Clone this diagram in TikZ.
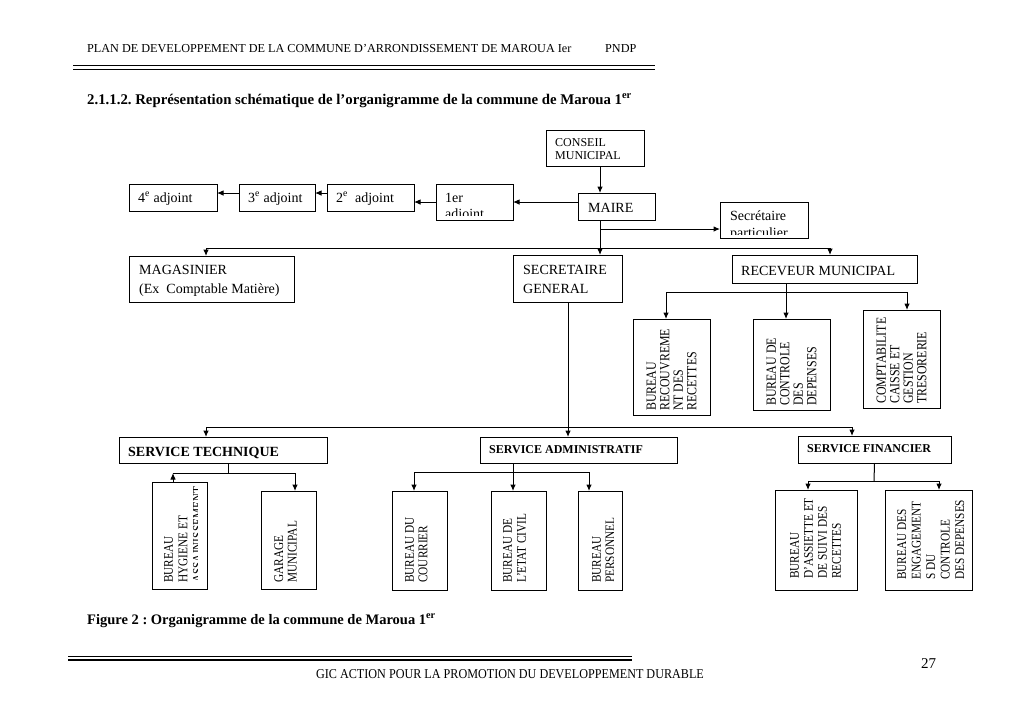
\documentclass[tikz,border=0pt]{standalone}
\usepackage{fontspec}
\setmainfont{Liberation Serif}
\usetikzlibrary{arrows.meta}
\frenchspacing
\newcommand\myfs[2]{\fontsize{#1}{#2}\selectfont}
\newcommand\mybox[5]{\node[box, minimum width={(#4)-(#2)}, minimum height={(#5)-(#3)}] (#1) at ({((#2)+(#4))/2},{((#3)+(#5))/2}) {};}
\tikzset{
 box/.style={draw, line width=1pt, inner sep=0pt, outer sep=0pt},
 tx/.style={inner sep=0pt, anchor=base west},
 vt/.style={inner sep=0pt, rotate=90, xscale=0.85, anchor=north west, align=left},
 arr/.style={line width=1pt, -{Latex[length=6.5pt,width=5.5pt]}},
 ln/.style={line width=1pt},
}
\begin{document}
\begin{tikzpicture}[x=1pt,y=-1pt]
\fill[white] (0,0) rectangle (1024,724);
\useasboundingbox (0,0) rectangle (1024,724);
% header
\node[tx,font=\myfs{12.2}{14}] (hdr) at (87,52) {PLAN DE DEVELOPPEMENT DE LA COMMUNE D’ARRONDISSEMENT DE MAROUA Ier};
\node[tx,font=\myfs{12.2}{14}] (pndp) at (605,52) {PNDP};
\draw[line width=1.4pt] (73,65.5) -- (655,65.5);
\draw[line width=1.4pt] (73,69.5) -- (655,69.5);
\node[tx,font=\bfseries\myfs{14.8}{17}] (ttl) at (87,104) {2.1.1.2. Représentation schématique de l’organigramme de la commune de Maroua 1\textsuperscript{er}};
% boxes
\mybox{cm}{546}{130}{644}{166}
\mybox{maire}{578}{193}{655}{220}
\mybox{aa}{436}{184}{513}{220}
\mybox{ab}{327}{184}{414}{211}
\mybox{ac}{239}{184}{315}{211}
\mybox{ad}{129}{184}{217}{211}
\mybox{sp}{720}{202}{808}{238}
\mybox{mag}{129}{256}{294}{302}
\mybox{sg}{513}{255}{622}{302}
\mybox{rm}{732}{255}{917}{283}
\mybox{ba}{633}{319}{710}{415}
\mybox{bb}{753}{319}{830}{410}
\mybox{bc}{863}{310}{940}{408}
\mybox{st}{119}{437}{327}{463}
\mybox{sa}{480}{437}{677}{463}
\mybox{sf}{798}{436}{951}{463}
\mybox{ha}{152}{482}{207}{589}
\mybox{hb}{261}{491}{316}{589}
\mybox{ca}{392}{491}{447}{590}
\mybox{cb}{491}{491}{546}{590}
\mybox{cc}{578}{491}{622}{590}
\mybox{fa}{775}{490}{857}{590}
\mybox{fb}{885}{490}{972}{590}
% texts
\node[tx,font=\myfs{12}{13}] (tcm1) at (555,146) {CONSEIL};
\node[tx,font=\myfs{12}{13}] (tcm2) at (555,159) {MUNICIPAL};
\node[tx,font=\myfs{14}{16}] (tmaire) at (588,212) {MAIRE};
\node[tx,font=\myfs{14}{16}] (taa1) at (445,202) {1er};
\begin{scope}
\clip (436,184) rectangle (513,215.5);
\node[tx,font=\myfs{14}{16}] (taa2) at (445,218.8) {adjoint};
\end{scope}
\node[tx,font=\myfs{14}{16}] (tab) at (336,202) {2\textsuperscript{e}~ adjoint};
\node[tx,font=\myfs{14}{16}] (tac) at (248,202) {3\textsuperscript{e} adjoint};
\node[tx,font=\myfs{14}{16}] (tad) at (138,202) {4\textsuperscript{e} adjoint};
\node[tx,font=\myfs{14}{16}] (tsp1) at (730,220) {Secrétaire};
\begin{scope}
\clip (720,202) rectangle (808,234.5);
\node[tx,font=\myfs{14}{16}] (tsp2) at (730,237.8) {particulier};
\end{scope}
\node[tx,font=\myfs{14}{16}] (tmag1) at (139,274) {MAGASINIER};
\node[tx,font=\myfs{14}{16}] (tmag2) at (139,293) {(Ex~ Comptable Matière)};
\node[tx,font=\myfs{14}{16}] (tsg1) at (523,274) {SECRETAIRE};
\node[tx,font=\myfs{14}{16}] (tsg2) at (523,293) {GENERAL};
\node[tx,font=\myfs{14}{16}] (trm) at (741,275) {RECEVEUR MUNICIPAL};
\node[tx,font=\bfseries\myfs{14}{16}] (tst) at (128,456) {SERVICE TECHNIQUE};
\node[tx,font=\bfseries\myfs{12}{14}] (tsa) at (489,453) {SERVICE ADMINISTRATIF};
\node[tx,font=\bfseries\myfs{12}{14}] (tsf) at (807,452) {SERVICE FINANCIER};
\node[vt,font=\myfs{14}{13.5}] (tba) at (646.5,411) {BUREAU\\RECOUVREME\\NT DES\\RECETTES};
\node[vt,font=\myfs{14}{13.5}] (tbb) at (766.5,406) {BUREAU DE\\CONTROLE\\DES\\DEPENSES};
\node[vt,font=\myfs{14}{13.5}] (tbc) at (876.5,404) {COMPTABILITE\\CAISSE ET\\GESTION\\TRESORERIE};
\begin{scope}
\clip (150,470) rectangle (197.5,600);
\node[vt,font=\myfs{13.3}{14.5}] (tha) at (164,583) {BUREAU\\HYGIENE ET\\ASSAINISSEMENT};
\end{scope}
\node[vt,font=\myfs{13.3}{13.5}] (thb) at (274,583) {GARAGE\\MUNICIPAL};
\node[vt,font=\myfs{13.3}{13.5}] (tca) at (405,583) {BUREAU DU\\COURRIER};
\node[vt,font=\myfs{13.3}{14}] (tcb) at (503,583) {BUREAU DE\\L’ETAT CIVIL};
\begin{scope}
\clip (575,480) rectangle (613,600);
\node[vt,font=\myfs{13.3}{13.5}] (tcc) at (592,583) {BUREAU\\PERSONNEL};
\end{scope}
\node[vt,font=\myfs{13.3}{14}] (tfa) at (790,579) {BUREAU\\D’ASSIETTE ET\\DE SUIVI DES\\RECETTES};
\node[vt,font=\myfs{13.3}{14.5}] (tfb) at (897,580) {BUREAU DES\\ENGAGEMENT\\S DU\\CONTROLE\\DES DEPENSES};
% connectors
\draw[arr] ([xshift=5pt]cm.south) -- ([xshift=-16.5pt]maire.north);
\draw[arr] (maire.west |- aa.east) -- (aa.east);
\draw[arr] (aa.west) -- (aa.west -| ab.east);
\draw[arr] ([yshift=4.5pt]ab.west) -- ([yshift=4.5pt]ac.east);
\draw[arr] ([yshift=4.5pt]ac.west) -- ([yshift=4.5pt]ad.east);
\coordinate (j0) at (600,229);
\coordinate (j1) at (600,248);
\draw[ln] ([xshift=-16.5pt]maire.south) -- (j1);
\draw[arr] (j0) -- (j0 -| sp.west);
\draw[arr] (j1) -| ([xshift=-5.5pt]mag.north);
\draw[arr] (j1) -| ([xshift=5.5pt]rm.north);
\draw[arr] (j1) -- ([xshift=32.5pt]sg.north);
\coordinate (j2) at (786,292);
\draw[ln] ([xshift=-38.5pt]rm.south) -- (j2);
\draw[arr] (j2) -| ([xshift=-5.5pt]ba.north);
\draw[arr] (j2) -- ([xshift=-5.5pt]bb.north);
\draw[arr] (j2) -| ([xshift=5.5pt]bc.north);
\coordinate (j3) at (568,427);
\draw[ln] ([xshift=0.5pt]sg.south) -- (j3);
\draw[arr] (j3) -| ([xshift=-17pt]st.north);
\draw[arr] (j3) -- ([xshift=-10.5pt]sa.north);
\draw[arr] (j3) -| ([xshift=-22.5pt]sf.north);
\coordinate (j4) at (228,473);
\coordinate (j5) at (173,473);
\draw[ln] ([xshift=5pt]st.south) -- (j4) -- (j5);
\draw[arr] (j4) -| ([xshift=6.5pt]hb.north);
\draw[arr] ([xshift=-6.5pt]ha.north) -- (j5);
\coordinate (j6) at (513,472);
\draw[ln] ([xshift=-65.5pt]sa.south) -- (j6);
\draw[arr] (j6) -| ([xshift=-5.5pt]ca.north);
\draw[arr] (j6) -- ([xshift=-5.5pt]cb.north);
\draw[arr] (j6) -| ([xshift=-11pt]cc.north);
\coordinate (j7) at (874,481);
\draw[ln] (sf.south) -- (j7);
\draw[arr] (j7) -| ([xshift=-8pt]fa.north);
\draw[arr] (j7) -| ([xshift=10.5pt]fb.north);
% footer
\node[tx,font=\bfseries\myfs{14.5}{17}] (cap) at (87,624) {Figure 2 : Organigramme de la commune de Maroua 1\textsuperscript{er}};
\draw[line width=0.8pt] (68,656) -- (632,656);
\draw[line width=1.6pt] (68,660) -- (632,660);
\node[inner sep=0pt, anchor=base, xscale=0.9, font=\myfs{13.5}{15}] (ftr) at (510,678) {GIC ACTION POUR LA PROMOTION DU DEVELOPPEMENT DURABLE};
\node[tx,font=\myfs{15}{17}] (pg) at (921,668) {27};
\end{tikzpicture}
\end{document}
